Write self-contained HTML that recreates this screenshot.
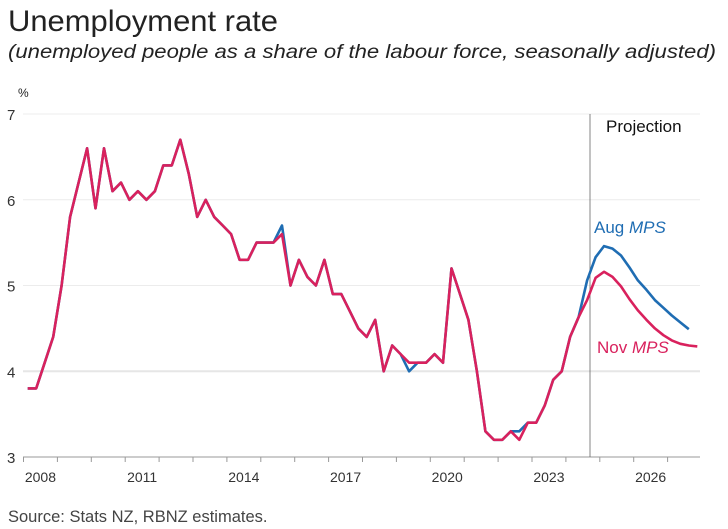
<!DOCTYPE html>
<html><head><meta charset="utf-8"><style>
html,body{margin:0;padding:0;background:#fff;}
svg{display:block;font-family:"Liberation Sans",sans-serif;}
</style></head><body>
<svg id="chart" width="728" height="529" viewBox="0 0 728 529">
<text x="8" y="31" font-size="30" fill="#222" textLength="270" lengthAdjust="spacingAndGlyphs">Unemployment rate</text>
<text x="8" y="58" font-size="19" font-style="italic" fill="#222" textLength="708" lengthAdjust="spacingAndGlyphs">(unemployed people as a share of the labour force, seasonally adjusted)</text>
<text x="18" y="97" font-size="12" fill="#222">%</text>
<g id="grid"></g>
<g id="axes"></g>
<line x1="590" y1="114" x2="590" y2="457" stroke="#666" stroke-width="0.8"/>
<text x="606" y="132" font-size="17" fill="#111">Projection</text>
<g id="series"></g>
<text x="594" y="233" font-size="17" fill="#1f6db3">Aug <tspan font-style="italic">MPS</tspan></text>
<text x="597" y="353" font-size="17" fill="#d9215d">Nov <tspan font-style="italic">MPS</tspan></text>
<text x="8" y="522" font-size="16.5" fill="#444">Source: Stats NZ, RBNZ estimates.</text>
</svg>
<script>
const yTicks = [3, 4, 5, 6, 7];
const xLabels = ["2008", "2011", "2014", "2017", "2020", "2023", "2026"];
const startYear = 2008;
const novSeries = [3.8,3.8,4.1,4.4,5.0,5.8,6.2,6.6,5.9,6.6,6.1,6.2,6.0,6.1,6.0,6.1,6.4,6.4,6.7,6.3,
5.8,6.0,5.8,5.7,5.6,5.3,5.3,5.5,5.5,5.5,5.6,5.0,5.3,5.1,5.0,5.3,4.9,4.9,4.7,4.5,
4.4,4.6,4.0,4.3,4.2,4.1,4.1,4.1,4.2,4.1,5.2,4.9,4.6,4.0,3.3,3.2,3.2,3.3,3.2,3.4,
3.4,3.6,3.9,4.0,4.4,4.63,4.83,5.09,5.16,5.10,4.99,4.84,4.71,4.60,4.50,4.42,4.36,4.32,4.30,4.29];
const augSeries = [3.8,3.8,4.1,4.4,5.0,5.8,6.2,6.6,5.9,6.6,6.1,6.2,6.0,6.1,6.0,6.1,6.4,6.4,6.7,6.3,
5.8,6.0,5.8,5.7,5.6,5.3,5.3,5.5,5.5,5.5,5.7,5.0,5.3,5.1,5.0,5.3,4.9,4.9,4.7,4.5,
4.4,4.6,4.0,4.3,4.2,4.0,4.1,4.1,4.2,4.1,5.2,4.9,4.6,4.0,3.3,3.2,3.2,3.3,3.3,3.4,
3.4,3.6,3.9,4.0,4.4,4.63,5.06,5.33,5.46,5.43,5.35,5.21,5.06,4.95,4.83,4.74,4.65,4.57,4.49];

const NS = "http://www.w3.org/2000/svg";
const X0 = 23.5, YEARW = 33.9, XEND = 700;
const yScale = v => 457 - (v - 3) * (343 / 4);
const xYear = y => X0 + (y - startYear) * YEARW;
const xQuarter = i => xYear(startYear + (i + 0.5) / 4);

const grid = document.getElementById('grid');
const axes = document.getElementById('axes');
yTicks.forEach(t => {
  const y = yScale(t);
  if (t !== 3) {
    const l = document.createElementNS(NS, 'line');
    
    
    l.setAttribute('x1', 23); l.setAttribute('x2', XEND);
    l.setAttribute('y1', y); l.setAttribute('y2', y);
    l.setAttribute('stroke', t === 4 ? '#e6e6e6' : '#ececec');
    l.setAttribute('stroke-width', t === 4 ? 2 : 1);
    grid.appendChild(l);
  }
  const tx = document.createElementNS(NS, 'text');
  
  
  tx.setAttribute('x', 7); tx.setAttribute('y', y + 6);
  tx.setAttribute('font-size', 15); tx.setAttribute('fill', '#333');
  tx.textContent = t;
  axes.appendChild(tx);
});
const ax = document.createElementNS(NS, 'line');


ax.setAttribute('x1', 23); ax.setAttribute('x2', XEND);
ax.setAttribute('y1', 457); ax.setAttribute('y2', 457);
ax.setAttribute('stroke', '#999'); ax.setAttribute('stroke-width', 1);
axes.appendChild(ax);
for (let yr = startYear; xYear(yr) <= XEND; yr++) {
  const t = document.createElementNS(NS, 'line');
  
  
  t.setAttribute('x1', xYear(yr)); t.setAttribute('x2', xYear(yr));
  t.setAttribute('y1', 457); t.setAttribute('y2', 462);
  t.setAttribute('stroke', '#999');
  axes.appendChild(t);
}
xLabels.forEach(lbl => {
  const tx = document.createElementNS(NS, 'text');
  
  
  tx.setAttribute('x', xYear(+lbl + 0.5)); tx.setAttribute('y', 482);
  tx.setAttribute('font-size', 14); tx.setAttribute('fill', '#333');
  tx.setAttribute('text-anchor', 'middle');
  tx.textContent = lbl;
  axes.appendChild(tx);
});
const series = document.getElementById('series');
function drawLine(vals, color, name) {
  const p = document.createElementNS(NS, 'path');
  
  
  p.setAttribute('d', vals.map((v, i) => (i ? 'L' : 'M') + xQuarter(i).toFixed(1) + ',' + yScale(v).toFixed(1)).join(''));
  p.setAttribute('fill', 'none'); p.setAttribute('stroke', color);
  p.setAttribute('stroke-width', 2.6); p.setAttribute('stroke-linejoin', 'round');
  series.appendChild(p);
}
drawLine(augSeries, '#1f6db3', 'aug-mps-line');
drawLine(novSeries, '#d9215d', 'nov-mps-line');
</script>
</body></html>
